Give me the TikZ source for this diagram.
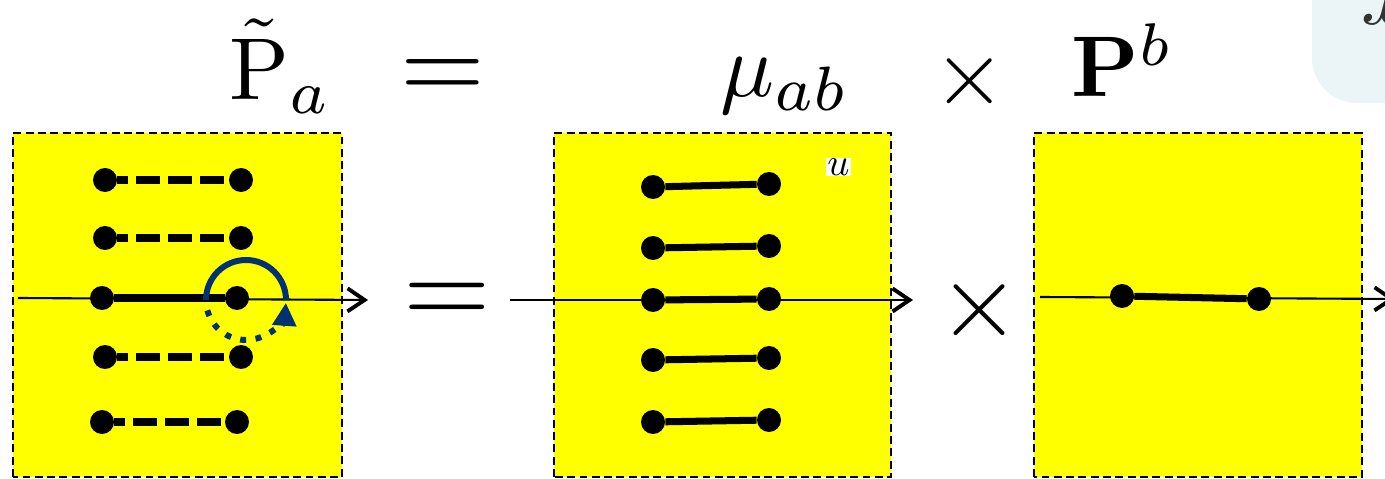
\documentclass[tikz,border=0pt]{standalone}
\usepackage{amsmath,amssymb,bm}
\usetikzlibrary{arrows.meta,calc}
\definecolor{loopblue}{RGB}{0,50,115}
\definecolor{panelblue}{RGB}{235,245,248}
\definecolor{sheetyellow}{RGB}{255,255,0}
\newcommand{\bigsym}[2]{\scalebox{#1}{$#2$}}
\tikzset{
    sheet/.style={fill=sheetyellow,draw=black,line width=1pt,dash pattern=on 4.5pt off 2.5pt},
    dot/.style={circle,fill=black,inner sep=0pt,minimum size=0.48cm},
    bond/.style={line width=4pt,draw=black},
    cut bond/.style={bond,dash pattern=on 0.48cm off 0.16cm,dash phase=0.26cm},
    axisline/.style={line width=1.2pt,-{Straight Barb[length=0.34cm,width=0.46cm,line width=2.2pt]}},
    loopline/.style={line width=3.4pt,draw=loopblue},
    big/.style={inner sep=0pt},
}

\begin{document}
\begin{tikzpicture}
\useasboundingbox (0,0) rectangle (27.7,9.58);

% corner of the next panel
\fill[panelblue, rounded corners=0.9cm] (26.24,7.52) rectangle (29,11);
\node[big, anchor=base west, text=black!80] (xcut) at (27.22,9.08) {\bigsym{5.2}{x}};

% top line
\node[big, anchor=base west] (ptil) at (4.58,7.58) {\bigsym{5.0}{\tilde{\mathrm{P}}_a}};
\node[big, anchor=base] (eqtop) at (8.86,7.58) {\bigsym{6.2}{=}};
\node[big, anchor=base west] (mutop) at (14.40,7.64) {\bigsym{5.1}{\mu_{ab}}};
\node[big, anchor=base] (timestop) at (19.40,7.48) {\bigsym{5.3}{\times}};
\node[big, anchor=base west] (pb) at (21.42,7.64) {\bigsym{4.9}{\mathbf{P}^b}};

% sheets
\draw[sheet] (0.26,0.04) rectangle (6.84,6.92);
\draw[sheet] (11.08,0.04) rectangle (17.82,6.92);
\draw[sheet] (20.68,0.04) rectangle (27.24,6.92);

\node[big, anchor=base] (eqmid) at (8.94,3.08) {\bigsym{6.4}{=}};
\node[big, anchor=base] (timesmid) at (19.58,2.84) {\bigsym{6}{\times}};

% time axes
\coordinate (a1s) at (0.36,3.62);
\coordinate (a1e) at (7.36,3.58);
\coordinate (a2s) at (10.20,3.58);
\coordinate (a2e) at (18.26,3.58);
\coordinate (a3s) at (20.80,3.64);
\coordinate (a3e) at (27.90,3.60);
\draw[axisline] (a1s) -- (a1e);
\draw[axisline] (a2s) -- (a2e);
\draw[axisline] (a3s) -- (a3e);

% left sheet
\foreach \i/\xl/\xr/\y in {1/2.10/4.82/5.98, 2/2.10/4.82/4.82, 3/2.04/4.74/3.62, 4/2.10/4.82/2.44, 5/2.04/4.74/1.14} {
    \node[dot] (pl\i) at (\xl,\y) {};
    \node[dot] (pr\i) at (\xr,\y) {};
}
\foreach \i in {1,2,4,5} {
    \draw[cut bond] (pl\i) -- (pr\i);
}
\draw[bond] (pl3) -- (pr3);

% middle sheet
\foreach \i/\yl/\yr in {1/5.84/5.90, 2/4.62/4.66, 3/3.58/3.60, 4/2.38/2.42, 5/1.14/1.18} {
    \node[dot] (ml\i) at (13.06,\yl) {};
    \node[dot] (mr\i) at (15.38,\yr) {};
    \draw[bond] (ml\i) -- (mr\i);
}
\node[fill=white, inner sep=0.6pt] (ulab) at (16.77,6.24) {\bigsym{2.2}{u}};

% right sheet
\node[dot] (bl) at (22.44,3.66) {};
\node[dot] (br) at (25.18,3.60) {};
\draw[bond] (bl) -- (br);

% loop round the cut
\coordinate (loop) at (4.92,3.58);
\draw[loopline] (loop) ++(180:0.8) arc[start angle=180, end angle=0, radius=0.8];
\draw[loopline, dash pattern=on 0.12cm off 0.19cm, -{Triangle[length=0.46cm,width=0.46cm]}]
    (loop) ++(195:0.8) arc[start angle=195, end angle=356, radius=0.8];
\end{tikzpicture}
\end{document}
